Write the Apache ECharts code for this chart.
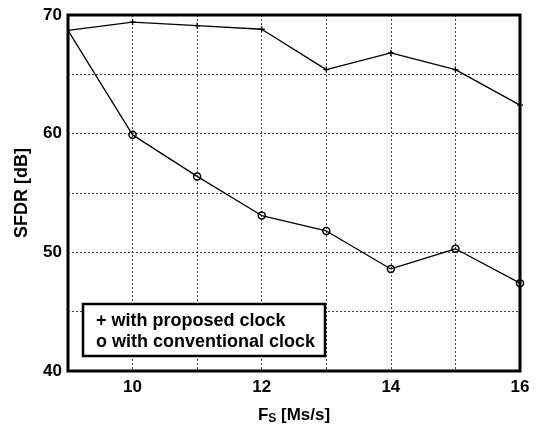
<!DOCTYPE html>
<html><head><meta charset="utf-8">
<script src="https://cdn.jsdelivr.net/npm/echarts@6/dist/echarts.min.js"></script>
<style>html,body{margin:0;padding:0;background:#fff}#c{width:536px;height:424px}</style>
</head><body><div id="c"></div>
<script>
const fs = [9, 10, 11, 12, 13, 14, 15, 16];
const proposed = [68.7, 69.4, 69.1, 68.8, 65.4, 66.8, 65.4, 62.4];
const conventional = [68.7, 59.9, 56.4, 53.1, 51.8, 48.6, 50.3, 47.4];
const xTickLabels = [10, 12, 14, 16];
const yTickLabels = [40, 50, 60, 70];
const legendLines = ['+ with proposed clock', 'o with conventional clock'];

const FONT = 'Liberation Sans, Arial, Helvetica, sans-serif';
const chart = echarts.init(document.getElementById('c'), null, {renderer: 'canvas'});
const pair = (xs, ys) => xs.map((x, i) => x === 9 ? {value: [x, ys[i]], symbol: 'none'} : [x, ys[i]]);
chart.setOption({
  animation: false,
  backgroundColor: '#fff',
  grid: {left: 68, right: 16, top: 15, bottom: 53, containLabel: false, outerBoundsMode: 'none',
    show: true, borderColor: '#000', borderWidth: 3, backgroundColor: 'transparent', z: 10},
  xAxis: {
    type: 'value', min: 9, max: 16, interval: 1,
    axisLine: {show: false},
    axisTick: {show: false},
    axisLabel: {color: '#000', fontFamily: FONT, fontWeight: 'bold', fontSize: 17, margin: 8,
      formatter: v => xTickLabels.includes(v) ? String(v) : ''},
    splitLine: {show: true, lineStyle: {type: [2, 2], color: '#444', width: 1}},
    name: '{a|F}{s|S}{a| [Ms/s]}', nameLocation: 'middle', nameGap: 34,
    nameTextStyle: {rich: {
      a: {fontFamily: FONT, fontWeight: 'bold', fontSize: 17, color: '#000'},
      s: {fontFamily: FONT, fontWeight: 'bold', fontSize: 12, color: '#000', verticalAlign: 'bottom', padding: [8, 0, 0, 0]}
    }}
  },
  yAxis: {
    type: 'value', min: 40, max: 70, interval: 5,
    axisLine: {show: false},
    axisTick: {show: false},
    axisLabel: {color: '#000', fontFamily: FONT, fontWeight: 'bold', fontSize: 17, margin: 6,
      formatter: v => yTickLabels.includes(v) ? String(v) : ''},
    splitLine: {show: true, lineStyle: {type: [2, 2], color: '#444', width: 1}},
    name: 'SFDR [dB]', nameLocation: 'middle', nameGap: 37, nameRotate: 90,
    nameTextStyle: {fontFamily: FONT, fontWeight: 'bold', fontSize: 18, color: '#000'}
  },
  series: [
    {type: 'line', data: pair(fs, proposed), symbol: 'path://M0,5L10,5M5,0L5,10', symbolSize: 6,
     lineStyle: {color: '#000', width: 1.3}, itemStyle: {color: '#000', borderColor: '#000', borderWidth: 1.3}},
    {type: 'line', data: pair(fs, conventional), symbol: 'circle', symbolSize: 7,
     lineStyle: {color: '#000', width: 1.3}, itemStyle: {color: 'transparent', borderColor: '#000', borderWidth: 1.5}}
  ],
  graphic: [
    {type: 'rect', shape: {x: 83, y: 304, width: 242, height: 52}, style: {fill: '#fff', stroke: '#000', lineWidth: 2.5}, z: 100},
    {type: 'text', x: 96, y: 312, style: {text: legendLines[0], font: 'bold 18px ' + FONT, fill: '#000'}, z: 101},
    {type: 'text', x: 96, y: 333, style: {text: legendLines[1], font: 'bold 18px ' + FONT, fill: '#000'}, z: 101}
  ]
});
</script></body></html>
